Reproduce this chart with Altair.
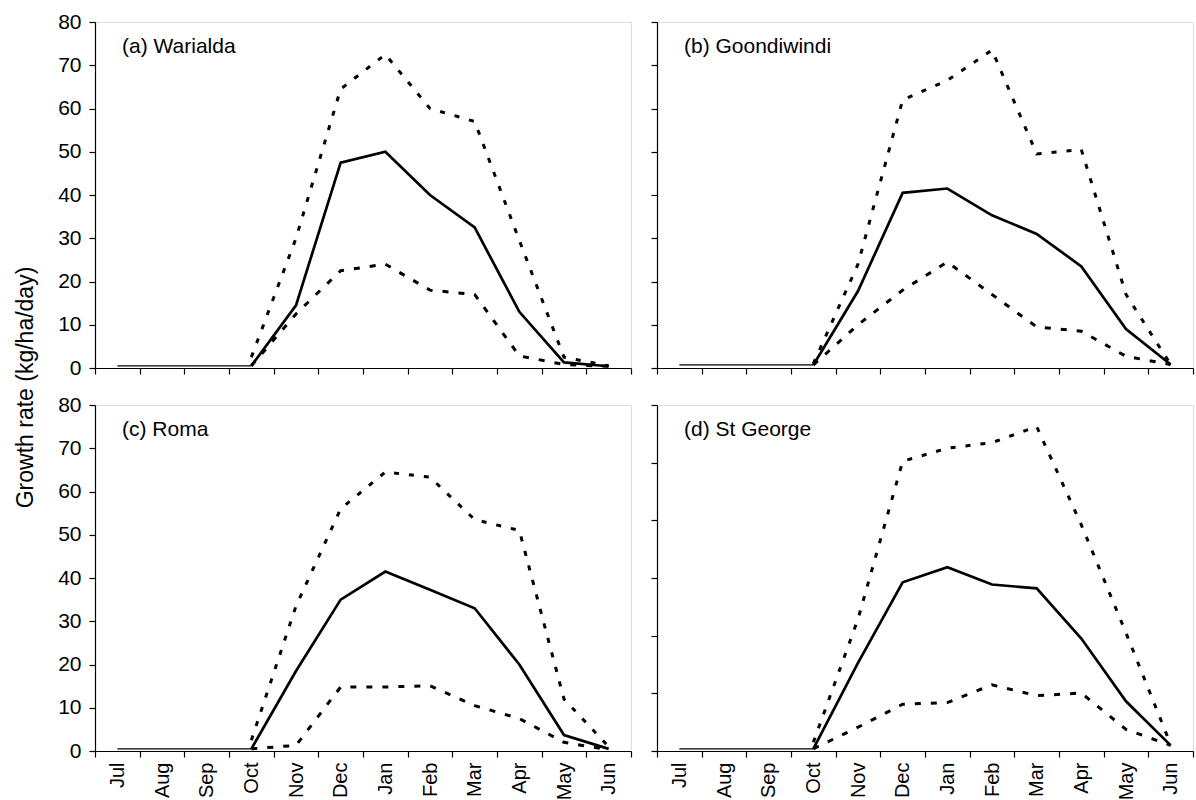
import altair as alt
import pandas as pd

# Months of the growing year (July to June)
months = ["Jul", "Aug", "Sep", "Oct", "Nov", "Dec", "Jan", "Feb", "Mar", "Apr", "May", "Jun"]
dry_months = months[:4]          # Jul..Oct, before growth starts
season = months[3:]              # Oct..Jun

sites = ["(a) Warialda", "(b) Goondiwindi", "(c) Roma", "(d) St George"]

# Level of the dry-season line (Jul..Oct) for each site
dry_level = [0.5, 0.7, 0.5, 0.5]

# Growth rate (kg/ha/day), Oct..Jun: mean, upper and lower bounds
warialda_mean = [0.5, 14.5, 47.5, 50.0, 40.0, 32.5, 13.0, 1.3, 0.4]
warialda_high = [2.5, 30.0, 64.5, 72.5, 60.0, 57.0, 29.5, 2.5, 0.5]
warialda_low = [0.5, 12.5, 22.5, 24.0, 18.0, 17.0, 2.8, 0.8, 0.4]

goondiwindi_mean = [0.7, 17.8, 40.5, 41.5, 35.3, 31.0, 23.5, 9.0, 0.8]
goondiwindi_high = [1.0, 24.0, 62.0, 66.5, 73.5, 49.5, 50.5, 17.0, 0.8]
goondiwindi_low = [0.7, 10.0, 18.0, 24.5, 17.0, 9.5, 8.5, 2.7, 0.8]

roma_mean = [0.5, 18.5, 35.0, 41.5, 37.3, 33.0, 20.0, 3.7, 0.5]
roma_high = [2.5, 33.5, 56.0, 64.5, 63.3, 53.5, 51.0, 12.0, 1.0]
roma_low = [0.5, 1.3, 14.8, 14.8, 15.1, 10.5, 7.5, 2.0, 0.3]

stgeorge_mean = [0.5, 20.4, 39.0, 42.5, 38.5, 37.6, 26.0, 11.5, 1.3]
stgeorge_high = [2.0, 30.5, 67.0, 70.0, 71.3, 75.0, 52.3, 27.3, 1.5]
stgeorge_low = [0.5, 5.5, 10.8, 11.2, 15.3, 12.8, 13.4, 5.0, 1.3]

site_series = [
    (warialda_mean, warialda_high, warialda_low),
    (goondiwindi_mean, goondiwindi_high, goondiwindi_low),
    (roma_mean, roma_high, roma_low),
    (stgeorge_mean, stgeorge_high, stgeorge_low),
]

y_ticks_default = [0, 10, 20, 30, 40, 50, 60, 70, 80]
y_ticks_sixths = [0, 80 / 6, 160 / 6, 40, 320 / 6, 400 / 6, 80]

FONT = "Liberation Sans"
PANEL_W = 536
PANEL_H = 346


def panel(i, x_labels, y_labels, y_ticks, y_title=None):
    mean, high, low = site_series[i]
    dry = pd.DataFrame({"month": dry_months, "value": [dry_level[i]] * len(dry_months)})
    wet = pd.DataFrame({
        "month": season * 3,
        "value": mean + high + low,
        "series": ["mean"] * 9 + ["high"] * 9 + ["low"] * 9,
    })

    x_axis = alt.Axis(
        title=None, tickBand="extent", labels=x_labels, labelAngle=270,
        labelAlign="right", labelBaseline="middle", labelFont=FONT,
        labelFontSize=20, labelColor="black", labelPadding=5,
        tickSize=6, tickColor="black", domainColor="black", grid=False,
        tickWidth=1.2, domainWidth=1.2,
    )
    y_kwargs = dict(
        values=y_ticks, labels=y_labels, labelFont=FONT, labelFontSize=21,
        labelColor="black", labelPadding=8, tickSize=6, tickColor="black",
        domainColor="black", grid=False, tickWidth=1.2, domainWidth=1.2,
    )
    if y_title:
        y_kwargs.update(
            title=y_title, titleFont=FONT, titleFontSize=23, titleFontWeight="normal",
            titleColor="black", titlePadding=20, titleY=PANEL_H + 19,
            titleAlign="center",
        )
    else:
        y_kwargs.update(title=None)
    y_axis = alt.Axis(**y_kwargs)

    x_enc = alt.X(
        "month:N", sort=months, bandPosition=0.5,
        scale=alt.Scale(type="band", domain=months, paddingInner=0, paddingOuter=0),
        axis=x_axis,
    )
    y_enc = alt.Y("value:Q", scale=alt.Scale(domain=[0, 80], nice=False, zero=True), axis=y_axis)

    base_line = alt.Chart(dry).mark_line(color="black", strokeWidth=1.3).encode(x=x_enc, y=y_enc)
    wet_base = alt.Chart(wet)
    mean_line = wet_base.mark_line(color="black", strokeWidth=2.7).encode(
        x=x_enc, y=y_enc).transform_filter(alt.datum.series == "mean")
    high_line = wet_base.mark_line(color="black", strokeWidth=3, strokeDash=[5, 10]).encode(
        x=x_enc, y=y_enc).transform_filter(alt.datum.series == "high")
    low_line = wet_base.mark_line(color="black", strokeWidth=3, strokeDash=[6, 10]).encode(
        x=x_enc, y=y_enc).transform_filter(alt.datum.series == "low")
    label = alt.Chart(pd.DataFrame({"name": [sites[i]]})).mark_text(
        align="left", baseline="middle", font=FONT, fontSize=21, color="black"
    ).encode(x=alt.value(27), y=alt.value(25), text="name:N")

    return alt.layer(base_line, mean_line, high_line, low_line, label).properties(
        width=PANEL_W, height=PANEL_H
    )


a = panel(0, False, True, y_ticks_default, y_title="Growth rate (kg/ha/day)")
b = panel(1, False, False, y_ticks_default)
c = panel(2, True, True, y_ticks_default)
d = panel(3, True, False, y_ticks_sixths)

chart = alt.concat(
    a, b, c, d, columns=2, spacing={"row": 37, "column": 26}, bounds="flush"
).properties(
    padding={"left": 14, "top": 10, "right": 0, "bottom": 2}
).configure_view(strokeWidth=0, stroke="transparent").configure(background="white")

chart.save("out.html", embed_options={"renderer": "svg", "actions": False})
